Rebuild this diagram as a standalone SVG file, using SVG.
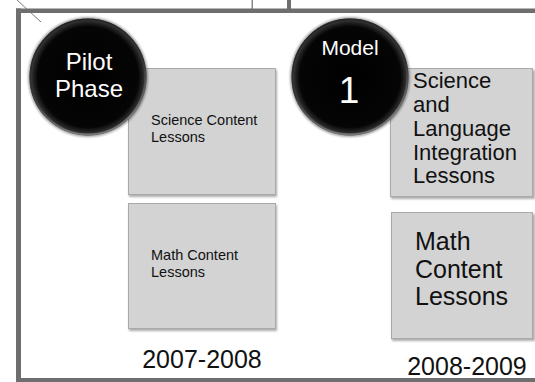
<svg xmlns="http://www.w3.org/2000/svg" width="535" height="382" viewBox="0 0 535 382">
  <style>
    .frame { fill: #6e6e6e; }
    .box { fill: #d3d3d3; stroke: #a9a9a9; stroke-width: 1; }
    .shadow { fill: #8a8a8a; opacity: 0.7; }
    .lbl { font-family: "Liberation Sans", Arial, sans-serif; fill: #111; }
    .wlbl { font-family: "Liberation Sans", Arial, sans-serif; fill: #fff; text-anchor: middle; }
    .rim { fill: none; stroke: url(#rimgrad); stroke-width: 2; }
  </style>
  <defs>
    <radialGradient id="ball" cx="50%" cy="50%" r="50%">
      <stop offset="0%" stop-color="#000"/>
      <stop offset="86%" stop-color="#050505"/>
      <stop offset="95%" stop-color="#2a2a2a"/>
      <stop offset="100%" stop-color="#555"/>
    </radialGradient>
    <linearGradient id="rimgrad" x1="0" y1="0" x2="0.3" y2="1">
      <stop offset="0%" stop-color="#222"/>
      <stop offset="60%" stop-color="#333"/>
      <stop offset="100%" stop-color="#777"/>
    </linearGradient>
    <filter id="soft" x="-20%" y="-20%" width="140%" height="140%">
      <feGaussianBlur stdDeviation="1.2"/>
    </filter>
  </defs>
  <rect x="0" y="0" width="535" height="382" fill="#fff"/>

  <g id="frame">
    <line x1="17" y1="0" x2="41" y2="22" stroke="#7a7a7a" stroke-width="1"/>
    <rect x="251.5" y="0" width="1.5" height="9" fill="#8a8a8a"/>
    <rect x="287" y="0" width="4" height="9" class="frame"/>
    <rect x="16" y="8.5" width="519" height="4.5" class="frame"/>
    <rect x="16" y="8.5" width="5" height="373.5" class="frame"/>
    <rect x="16" y="378" width="519" height="4" class="frame"/>
  </g>

  <g id="pilot-science">
    <rect x="129" y="70" width="148" height="127" class="shadow" filter="url(#soft)"/>
    <rect x="128.5" y="68.5" width="147" height="126" class="box"/>
    <text class="lbl" font-size="14.5"><tspan x="151" y="125">Science Content</tspan><tspan x="151" y="142">Lessons</tspan></text>
  </g>

  <g id="pilot-math">
    <rect x="129" y="205" width="148" height="126" class="shadow" filter="url(#soft)"/>
    <rect x="128.5" y="203.5" width="147" height="125" class="box"/>
    <text class="lbl" font-size="14.5"><tspan x="151" y="260">Math Content</tspan><tspan x="151" y="277">Lessons</tspan></text>
  </g>

  <g id="pilot-phase">
    <circle cx="88" cy="77" r="60" fill="#000" opacity="0.35" filter="url(#soft)"/>
    <circle cx="88" cy="77" r="58.5" fill="url(#ball)"/>
    <circle cx="88" cy="77" r="57.5" class="rim"/>
    <text class="wlbl" font-size="24"><tspan x="89" y="70">Pilot</tspan><tspan x="89" y="97">Phase</tspan></text>
  </g>

  <g id="pilot-year">
    <text class="lbl" font-size="25" text-anchor="middle" x="202" y="368">2007-2008</text>
  </g>

  <g id="model1-science">
    <rect x="391" y="70" width="144" height="129" class="shadow" filter="url(#soft)"/>
    <rect x="390.5" y="68.5" width="142" height="128" class="box"/>
    <text class="lbl" font-size="22"><tspan x="413" y="88">Science</tspan><tspan x="413" y="112">and</tspan><tspan x="413" y="136">Language</tspan><tspan x="413" y="160">Integration</tspan><tspan x="413" y="183">Lessons</tspan></text>
  </g>

  <g id="model1-math">
    <rect x="392" y="214" width="143" height="127" class="shadow" filter="url(#soft)"/>
    <rect x="391.5" y="212.5" width="141" height="126" class="box"/>
    <text class="lbl" font-size="25"><tspan x="415" y="250">Math</tspan><tspan x="415" y="278">Content</tspan><tspan x="415" y="305">Lessons</tspan></text>
  </g>

  <g id="model-1">
    <circle cx="350" cy="77" r="60" fill="#000" opacity="0.35" filter="url(#soft)"/>
    <circle cx="350" cy="77" r="58.5" fill="url(#ball)"/>
    <circle cx="350" cy="77" r="57.5" class="rim"/>
    <text class="wlbl" font-size="21"><tspan x="350" y="55">Model</tspan></text>
    <text class="wlbl" font-size="37"><tspan x="349" y="103">1</tspan></text>
  </g>

  <g id="model1-year">
    <text class="lbl" font-size="25" text-anchor="middle" x="467" y="375">2008-2009</text>
  </g>

  <g id="connectors"></g>
</svg>
